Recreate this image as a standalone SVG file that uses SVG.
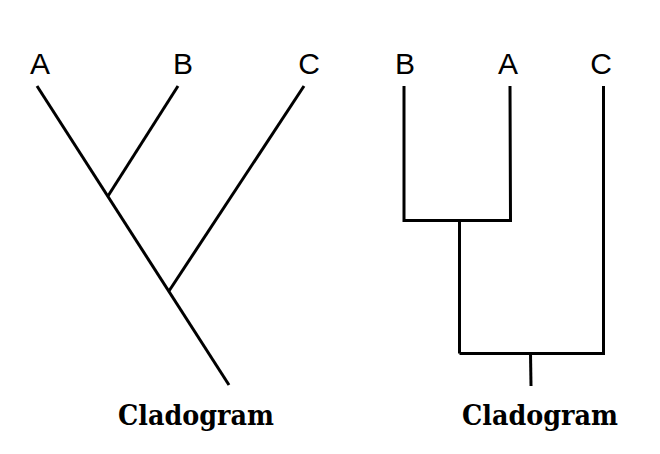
<svg xmlns="http://www.w3.org/2000/svg" width="660" height="454" viewBox="0 0 660 454">
<style>
.e{stroke:#000;stroke-width:3;fill:none;stroke-linecap:butt;stroke-linejoin:miter}
.l{font-family:"Liberation Sans",Arial,sans-serif;font-size:30px;fill:#000;text-anchor:middle}
.t{font-family:"DejaVu Serif","Liberation Serif",serif;font-weight:bold;font-size:27px;fill:#000}
</style>
<rect width="660" height="454" fill="#fff"/>
<g id="connectors">
<line class="e" x1="37" y1="86" x2="229" y2="385"/>
<line class="e" x1="178" y1="86" x2="108" y2="196"/>
<line class="e" x1="304" y1="86" x2="169" y2="291"/>
<polyline class="e" points="404,86 404,220.5 510.5,220.5 510,86"/>
<line class="e" x1="459.5" y1="220.5" x2="459.5" y2="353.5"/>
<polyline class="e" points="459.5,353.5 603.5,353.5 603.5,86"/>
<line class="e" x1="530.5" y1="353.5" x2="531" y2="386"/>
</g>
<g id="node-left-A"><text class="l" x="40" y="74">A</text></g>
<g id="node-left-B"><text class="l" x="183" y="74">B</text></g>
<g id="node-left-C"><text class="l" x="309" y="74">C</text></g>
<g id="node-right-B"><text class="l" x="405" y="74">B</text></g>
<g id="node-right-A"><text class="l" x="508" y="74">A</text></g>
<g id="node-right-C"><text class="l" x="601" y="74">C</text></g>
<g id="title-left"><text class="t" x="118" y="425" textLength="156" lengthAdjust="spacingAndGlyphs">Cladogram</text></g>
<g id="title-right"><text class="t" x="462" y="425" textLength="156" lengthAdjust="spacingAndGlyphs">Cladogram</text></g>
</svg>
